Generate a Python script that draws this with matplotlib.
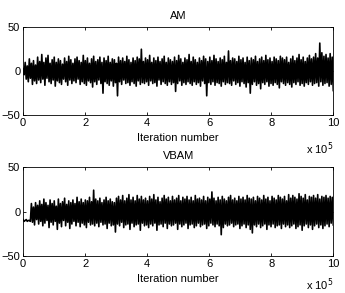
import numpy as np
import matplotlib
matplotlib.use('Agg')
import matplotlib.pyplot as plt

plt.rcParams['font.family'] = ['Liberation Sans', 'DejaVu Sans']

# trace values (alternating high / low swings)
am_values = [
    3, -4, 10, -9, 6, -12, 14, -8, 9, -15, 12, -11, 7, -14, 16, -10, 11, -13, 19, -9,
    10, -16, 15, -8, 18, -12, 9, -14, 13, -10, 16, -17, 10, -11, 14, -13, 12, -15, 8, -9,
    15, -12, 11, -16, 17, -10, 13, -14, 9, -11, 14, -13, 16, -9, 12, -15, 10, -12, 18, -14,
    12, -16, 15, -11, 9, -13, 14, -18, 17, -12, 11, -15, 13, -10, 16, -14, 10, -25, 15, -12,
    12, -14, 17, -16, 10, -11, 14, -17, 13, -13, 9, -28, 16, -12, 12, -15, 15, -10, 11, -14,
    17, -13, 13, -16, 10, -12, 15, -14, 12, -17, 16, -11, 14, -15, 25, -13, 11, -14, 15, -12,
    13, -16, 18, -11, 10, -14, 15, -13, 12, -17, 16, -10, 11, -15, 14, -12, 17, -14, 10, -16,
    15, -12, 13, -15, 11, -13, 16, -23, 12, -14, 18, -11, 14, -16, 10, -13, 15, -15, 13, -12,
    19, -14, 11, -16, 16, -12, 13, -15, 10, -13, 15, -17, 12, -11, 17, -14, 14, -28, 11, -13,
    16, -15, 12, -12, 18, -16, 14, -13, 11, -14, 15, -17, 13, -12, 17, -15, 10, -13, 23, -14,
    12, -16, 15, -11, 14, -15, 11, -13, 17, -17, 13, -12, 15, -14, 10, -18, 16, -13, 12, -25,
    15, -15, 13, -12, 17, -16, 11, -14, 14, -20, 16, -13, 12, -15, 18, -12, 13, -17, 15, -14,
    11, -16, 16, -13, 14, -15, 12, -19, 17, -12, 15, -14, 13, -16, 16, -13, 10, -15, 14, -18,
    17, -13, 12, -15, 15, -12, 19, -16, 13, -14, 16, -17, 11, -13, 15, -15, 18, -12, 14, -16,
    16, -14, 20, -13, 15, -17, 32, -12, 21, -16, 17, -14, 19, -13, 15, -17, 20, -15, 16, -22,
]
vbam_values = [
    -9, -11, -10, -9, -11, -10, -10, -11, 9, -12, 5, -15, 10, -9, 7, -14, 12, -11, 8, -16,
    14, -13, 10, -10, 7, -18, 13, -12, 9, -15, 12, -11, 6, -20, 14, -13, 9, -17, 11, -10,
    15, -16, 8, -12, 12, -19, 10, -14, 13, -11, 9, -16, 16, -12, 11, -17, 14, -13, 10, -15,
    13, -18, 12, -12, 16, -15, 11, -14, 24, -16, 14, -13, 12, -17, 15, -12, 10, -15, 13, -14,
    16, -19, 12, -13, 14, -16, 11, -15, 10, -23, 15, -14, 17, -16, 13, -12, 18, -18, 12, -15,
    15, -14, 19, -20, 13, -13, 16, -17, 12, -15, 18, -14, 14, -21, 17, -13, 13, -16, 15, -15,
    12, -18, 17, -14, 14, -16, 19, -13, 13, -21, 16, -15, 11, -14, 15, -17, 18, -13, 14, -19,
    16, -14, 12, -16, 17, -15, 13, -13, 15, -20, 18, -14, 12, -17, 16, -15, 14, -13, 17, -19,
    13, -15, 16, -14, 12, -18, 18, -16, 14, -13, 15, -17, 13, -15, 17, -14, 12, -19, 16, -16,
    14, -13, 22, -15, 15, -17, 12, -14, 16, -16, 13, -26, 17, -18, 14, -14, 12, -16, 16, -15,
    18, -13, 13, -17, 15, -15, 12, -14, 17, -19, 14, -16, 16, -14, 13, -18, 18, -15, 15, -20,
    14, -24, 16, -15, 12, -17, 17, -14, 15, -18, 13, -16, 18, -14, 14, -20, 16, -15, 12, -17,
    17, -14, 15, -18, 13, -16, 18, -15, 16, -19, 14, -14, 17, -17, 12, -15, 19, -18, 15, -16,
    18, -14, 16, -19, 14, -17, 20, -15, 17, -21, 15, -16, 19, -14, 13, -18, 17, -15, 16, -20,
    18, -16, 15, -14, 19, -18, 14, -15, 17, -19, 16, -16, 18, -14, 15, -17, 17, -13, 16, -15,
]
titles = ['AM', 'VBAM']
exp_label_y = [-0.29, -0.23]
x_ticks = [0, 2e5, 4e5, 6e5, 8e5, 10e5]
x_tick_labels = ['0', '2', '4', '6', '8', '10']
y_ticks = [-50, 0, 50]

fig = plt.figure(figsize=(3.45, 2.93), dpi=100)
ax_top = fig.add_axes([0.067, 0.607, 0.899, 0.300])
ax_bot = fig.add_axes([0.067, 0.126, 0.899, 0.304])

for ax, values, title, ey in zip([ax_top, ax_bot], [am_values, vbam_values],
                                 titles, exp_label_y):
    iters = np.linspace(0, 1e6, len(values))
    ax.plot(iters, values, color='black', linewidth=1.2)
    ax.set_xlim(0, 1e6)
    ax.set_ylim(-50, 50)
    ax.set_xticks(x_ticks)
    ax.set_xticklabels(x_tick_labels)
    ax.set_yticks(y_ticks)
    ax.tick_params(direction='in', length=2.5, width=0.6, labelsize=8,
                   top=True, right=True, pad=2)
    for s in ax.spines.values():
        s.set_linewidth(0.6)
    ax.set_title(title, fontsize=8, pad=6)
    ax.set_xlabel('Iteration number', fontsize=8, labelpad=4)
    ax.text(1.0, ey, r'x 10$^5$', transform=ax.transAxes,
            ha='right', va='top', fontsize=8)

fig.savefig('out.png', dpi=100)
